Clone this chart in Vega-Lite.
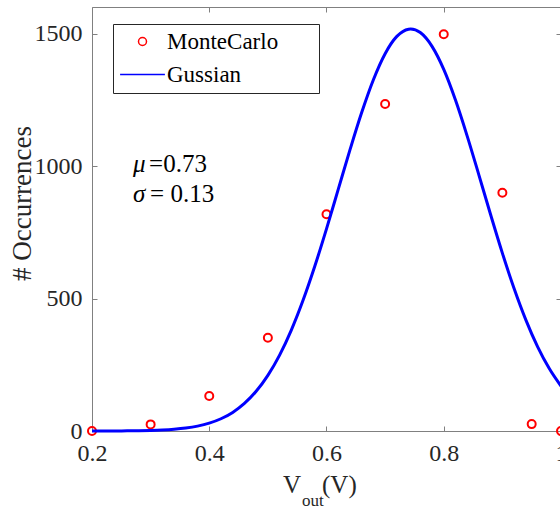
{
  "$schema": "https://vega.github.io/schema/vega-lite/v6.json",
  "width": 469,
  "height": 424,
  "autosize": {"type": "none"},
  "padding": {"left": 92, "top": 7, "right": 0, "bottom": 81},
  "background": "white",
  "config": {
    "font": "Liberation Serif",
    "view": {"stroke": null},
    "text": {"font": "Liberation Serif"},
    "axis": {
      "grid": false,
      "domainColor": "#808080",
      "domainWidth": 1,
      "tickColor": "#808080",
      "tickWidth": 1,
      "tickSize": -5,
      "labelFlush": false,
      "labelFont": "Liberation Serif",
      "labelFontSize": 24,
      "labelColor": "#262626",
      "titleFont": "Liberation Serif",
      "titleFontSize": 27,
      "titleFontWeight": "normal",
      "titleColor": "#262626"
    }
  },
  "datasets": {
    "montecarlo": [
      {"v": 0.2, "n": 0, "series": "MonteCarlo"},
      {"v": 0.3, "n": 25, "series": "MonteCarlo"},
      {"v": 0.4, "n": 132, "series": "MonteCarlo"},
      {"v": 0.5, "n": 352, "series": "MonteCarlo"},
      {"v": 0.6, "n": 818, "series": "MonteCarlo"},
      {"v": 0.7, "n": 1234, "series": "MonteCarlo"},
      {"v": 0.8, "n": 1497, "series": "MonteCarlo"},
      {"v": 0.9, "n": 899, "series": "MonteCarlo"},
      {"v": 0.95, "n": 26, "series": "MonteCarlo"},
      {"v": 1.0, "n": 0, "series": "MonteCarlo"}
    ],
    "gaussian": [
      {"v": 0.2, "n": 0.08, "series": "Gussian"},
      {"v": 0.22, "n": 0.16, "series": "Gussian"},
      {"v": 0.24, "n": 0.32, "series": "Gussian"},
      {"v": 0.26, "n": 0.62, "series": "Gussian"},
      {"v": 0.28, "n": 1.17, "series": "Gussian"},
      {"v": 0.3, "n": 2.15, "series": "Gussian"},
      {"v": 0.32, "n": 3.83, "series": "Gussian"},
      {"v": 0.34, "n": 6.65, "series": "Gussian"},
      {"v": 0.36, "n": 11.2, "series": "Gussian"},
      {"v": 0.38, "n": 18.5, "series": "Gussian"},
      {"v": 0.4, "n": 29.7, "series": "Gussian"},
      {"v": 0.42, "n": 46.2, "series": "Gussian"},
      {"v": 0.44, "n": 70.2, "series": "Gussian"},
      {"v": 0.46, "n": 103.9, "series": "Gussian"},
      {"v": 0.48, "n": 149.7, "series": "Gussian"},
      {"v": 0.5, "n": 209.9, "series": "Gussian"},
      {"v": 0.52, "n": 286.5, "series": "Gussian"},
      {"v": 0.54, "n": 381.0, "series": "Gussian"},
      {"v": 0.56, "n": 493.2, "series": "Gussian"},
      {"v": 0.58, "n": 621.6, "series": "Gussian"},
      {"v": 0.6, "n": 762.8, "series": "Gussian"},
      {"v": 0.62, "n": 911.7, "series": "Gussian"},
      {"v": 0.64, "n": 1060.7, "series": "Gussian"},
      {"v": 0.66, "n": 1201.7, "series": "Gussian"},
      {"v": 0.68, "n": 1325.7, "series": "Gussian"},
      {"v": 0.7, "n": 1423.9, "series": "Gussian"},
      {"v": 0.72, "n": 1489.1, "series": "Gussian"},
      {"v": 0.74, "n": 1516.3, "series": "Gussian"},
      {"v": 0.7436, "n": 1517, "series": "Gussian"},
      {"v": 0.76, "n": 1503.5, "series": "Gussian"},
      {"v": 0.78, "n": 1451.4, "series": "Gussian"},
      {"v": 0.8, "n": 1364.4, "series": "Gussian"},
      {"v": 0.82, "n": 1248.8, "series": "Gussian"},
      {"v": 0.84, "n": 1112.9, "series": "Gussian"},
      {"v": 0.86, "n": 965.7, "series": "Gussian"},
      {"v": 0.88, "n": 815.9, "series": "Gussian"},
      {"v": 0.9, "n": 671.3, "series": "Gussian"},
      {"v": 0.92, "n": 537.7, "series": "Gussian"},
      {"v": 0.94, "n": 419.4, "series": "Gussian"},
      {"v": 0.96, "n": 318.5, "series": "Gussian"},
      {"v": 0.98, "n": 235.5, "series": "Gussian"},
      {"v": 1.0, "n": 169.5, "series": "Gussian"}
    ],
    "anchor": [{}]
  },
  "layer": [
    {
      "data": {"name": "montecarlo"},
      "mark": {"type": "point", "filled": false, "size": 64, "strokeWidth": 2, "opacity": 1},
      "encoding": {
        "x": {
          "field": "v", "type": "quantitative",
          "scale": {"domain": [0.2, 1], "nice": false, "zero": false},
          "axis": {"orient": "bottom", "values": [0.2, 0.4, 0.6, 0.8, 1], "format": "~g", "title": null, "labelPadding": 15}
        },
        "y": {
          "field": "n", "type": "quantitative",
          "scale": {"domain": [0, 1600], "nice": false},
          "axis": {
            "orient": "left", "values": [0, 500, 1000, 1500], "format": "d", "labelPadding": 15,
            "title": "# Occurrences", "titleAngle": 270, "titleAlign": "center",
            "titleBaseline": "alphabetic", "titleX": -62, "titleY": 196
          }
        },
        "color": {
          "field": "series", "type": "nominal",
          "scale": {"domain": ["MonteCarlo", "Gussian"], "range": ["#ff0000", "#0000ff"]},
          "legend": {
            "orient": "none", "legendX": 21, "legendY": 17,
            "title": null, "direction": "vertical",
            "padding": 6, "rowPadding": 9,
            "strokeColor": "#262626", "fillColor": "white",
            "labelFont": "Liberation Serif", "labelFontSize": 23, "labelColor": "#000000",
            "symbolSize": 64, "symbolOffset": 12, "labelOffset": 13,
            "labelExpr": "datum.label + '\u00a0\u00a0\u00a0\u00a0\u00a0\u00a0\u200b'",
            "encode": {
              "symbols": {
                "update": {
                  "strokeWidth": {"signal": "datum.value === 'Gussian' ? 3 : 2"},
                  "fill": {"value": "transparent"},
                  "opacity": {"value": 1}
                }
              }
            }
          }
        },
        "shape": {
          "field": "series", "type": "nominal",
          "scale": {"domain": ["MonteCarlo", "Gussian"], "range": ["circle", "M-5.6,0H5.6"]},
          "legend": {
            "orient": "none", "legendX": 21, "legendY": 17,
            "title": null, "direction": "vertical",
            "padding": 6, "rowPadding": 9,
            "strokeColor": "#262626", "fillColor": "white",
            "labelFont": "Liberation Serif", "labelFontSize": 23, "labelColor": "#000000",
            "symbolSize": 64, "symbolOffset": 12, "labelOffset": 13,
            "labelExpr": "datum.label + '\u00a0\u00a0\u00a0\u00a0\u00a0\u00a0\u200b'"
          }
        }
      }
    },
    {
      "data": {"name": "gaussian"},
      "mark": {"type": "line", "strokeWidth": 3, "interpolate": "monotone"},
      "encoding": {
        "x": {
          "field": "v", "type": "quantitative",
          "axis": {"orient": "top", "values": [0.2, 0.4, 0.6, 0.8, 1], "labels": false, "title": null}
        },
        "y": {
          "field": "n", "type": "quantitative",
          "axis": {"orient": "right", "values": [0, 500, 1000, 1500], "labels": false, "title": null}
        },
        "color": {"field": "series", "type": "nominal"}
      }
    },
    {
      "data": {"name": "anchor"},
      "mark": {"type": "text", "text": "μ", "font": "Liberation Serif", "fontStyle": "italic", "fontSize": 25, "align": "left", "baseline": "alphabetic", "color": "#000000"},
      "encoding": {
        "x": {"datum": 0.2701, "type": "quantitative", "axis": null},
        "y": {"datum": 978, "type": "quantitative", "axis": null}
      }
    },
    {
      "data": {"name": "anchor"},
      "mark": {"type": "text", "text": "=0.73", "font": "Liberation Serif", "fontSize": 25, "align": "left", "baseline": "alphabetic", "dx": 16, "color": "#000000"},
      "encoding": {
        "x": {"datum": 0.2701, "type": "quantitative", "axis": null},
        "y": {"datum": 978, "type": "quantitative", "axis": null}
      }
    },
    {
      "data": {"name": "anchor"},
      "mark": {"type": "text", "text": "σ", "font": "Liberation Serif", "fontStyle": "italic", "fontSize": 25, "align": "left", "baseline": "alphabetic", "color": "#000000"},
      "encoding": {
        "x": {"datum": 0.2701, "type": "quantitative", "axis": null},
        "y": {"datum": 864, "type": "quantitative", "axis": null}
      }
    },
    {
      "data": {"name": "anchor"},
      "mark": {"type": "text", "text": "= 0.13", "font": "Liberation Serif", "fontSize": 25, "align": "left", "baseline": "alphabetic", "dx": 17, "color": "#000000"},
      "encoding": {
        "x": {"datum": 0.2701, "type": "quantitative", "axis": null},
        "y": {"datum": 864, "type": "quantitative", "axis": null}
      }
    },
    {
      "data": {"name": "anchor"},
      "mark": {"type": "text", "text": "V", "font": "Liberation Serif", "fontSize": 25, "align": "left", "baseline": "alphabetic", "dx": -43.5, "dy": 62, "color": "#262626"},
      "encoding": {
        "x": {"datum": 0.6, "type": "quantitative", "axis": null},
        "y": {"datum": 0, "type": "quantitative", "axis": null}
      }
    },
    {
      "data": {"name": "anchor"},
      "mark": {"type": "text", "text": "out", "font": "Liberation Serif", "fontSize": 17, "align": "left", "baseline": "alphabetic", "dx": -24.5, "dy": 75, "color": "#262626"},
      "encoding": {
        "x": {"datum": 0.6, "type": "quantitative", "axis": null},
        "y": {"datum": 0, "type": "quantitative", "axis": null}
      }
    },
    {
      "data": {"name": "anchor"},
      "mark": {"type": "text", "text": "(V)", "font": "Liberation Serif", "fontSize": 25, "align": "left", "baseline": "alphabetic", "dx": -4.5, "dy": 62, "color": "#262626"},
      "encoding": {
        "x": {"datum": 0.6, "type": "quantitative", "axis": null},
        "y": {"datum": 0, "type": "quantitative", "axis": null}
      }
    }
  ],
  "resolve": {"axis": {"x": "independent", "y": "independent"}}
}
